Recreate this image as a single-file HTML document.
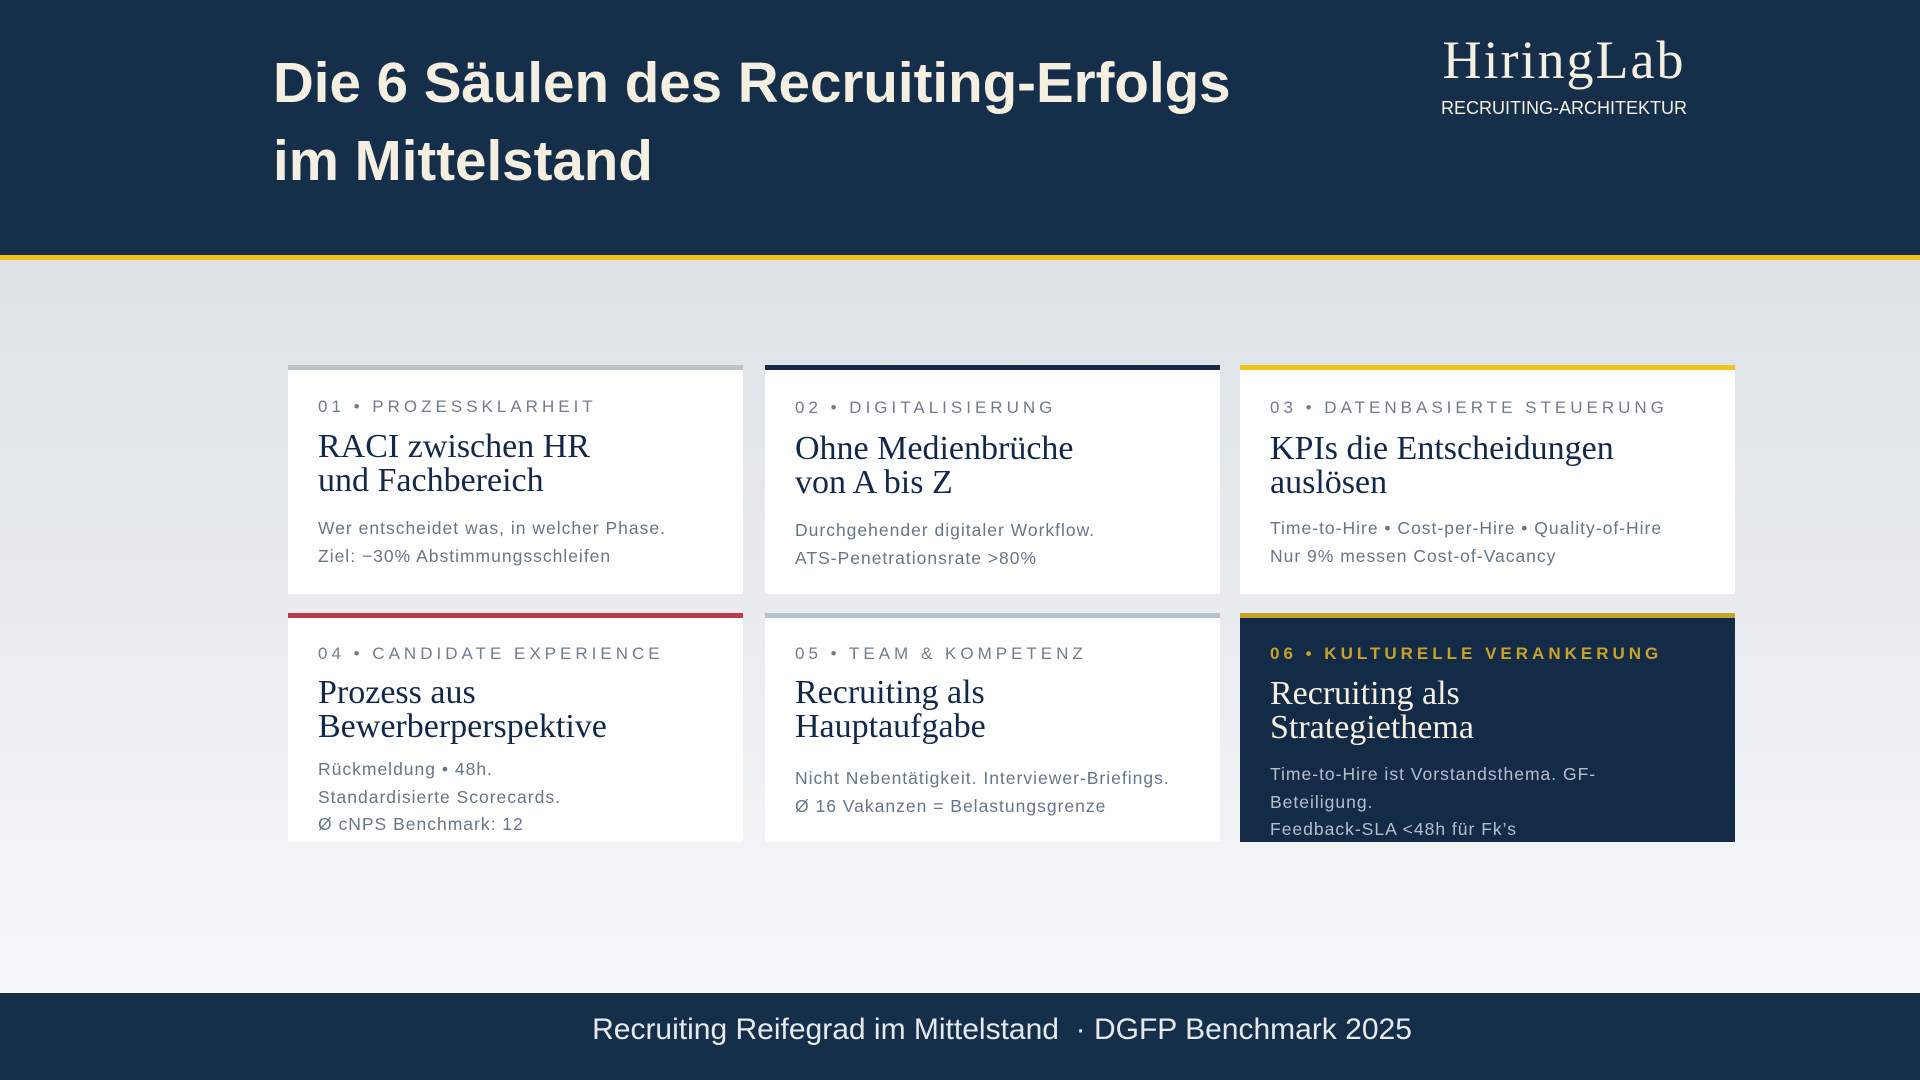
<!DOCTYPE html>
<html><head><meta charset="utf-8"><style>
*{margin:0;padding:0;box-sizing:border-box}
body{width:1920px;height:1080px;position:relative;overflow:hidden;font-family:"Liberation Sans",sans-serif;background:linear-gradient(#dce2e6 260px,#f6f7f8 990px)}
#header{position:absolute;left:0;top:0;width:1920px;height:255px;background:#152f4a}
#rule{position:absolute;left:0;top:255px;width:1920px;height:5px;background:#f0c419}
#title{position:absolute;left:273px;top:44px;color:#f5efe1;font-weight:bold;font-size:56.5px;line-height:78px}
#logo{position:absolute;left:1436px;top:28px;width:256px;text-align:center;color:#f5efe1}
#logo .n{font-family:"Liberation Serif",serif;font-size:54px;letter-spacing:2px;line-height:64px}
#logo .s{font-size:18px;line-height:20px;margin-top:6px}
#footer{position:absolute;left:0;top:993px;width:1920px;height:87px;background:#152f4a;color:#e6e9ee;font-size:30px;text-align:center;line-height:74px;padding-left:84px}
.card{position:absolute;background:#fff;padding-left:30px;border-top:5px solid #b9c2ca}
.lab{position:absolute;left:30px;font-size:17px;letter-spacing:4px;color:#6f7d8c}
.ttl{position:absolute;left:30px;font-family:"Liberation Serif",serif;font-size:34px;line-height:34px;color:#12284a}
.bd{position:absolute;left:30px;font-size:17.5px;line-height:27.5px;letter-spacing:1px;color:#66768a}
</style></head><body>
<div id="header"></div>
<div id="rule"></div>
<div id="title">Die 6 Säulen des Recruiting-Erfolgs<br>im Mittelstand</div>
<div id="logo"><div class="n">HiringLab</div><div class="s">RECRUITING-ARCHITEKTUR</div></div>

<div class="card" style="left:288px;top:365px;width:455px;height:229px">
<div class="lab" style="top:27px">01 • PROZESSKLARHEIT</div>
<div class="ttl" style="top:60px">RACI zwischen HR<br>und Fachbereich</div>
<div class="bd" style="top:145px">Wer entscheidet was, in welcher Phase.<br>Ziel: −30% Abstimmungsschleifen</div></div>

<div class="card" style="left:765px;top:365px;width:455px;height:229px;border-top-color:#142b47">
<div class="lab" style="top:28px">02 • DIGITALISIERUNG</div>
<div class="ttl" style="top:62px">Ohne Medienbrüche<br>von A bis Z</div>
<div class="bd" style="top:147px">Durchgehender digitaler Workflow.<br>ATS-Penetrationsrate &gt;80%</div></div>

<div class="card" style="left:1240px;top:365px;width:495px;height:229px;border-top-color:#f0c419">
<div class="lab" style="top:28px">03 • DATENBASIERTE STEUERUNG</div>
<div class="ttl" style="top:62px">KPIs die Entscheidungen<br>auslösen</div>
<div class="bd" style="top:145px">Time-to-Hire • Cost-per-Hire • Quality-of-Hire<br>Nur 9% messen Cost-of-Vacancy</div></div>

<div class="card" style="left:288px;top:613px;width:455px;height:229px;border-top-color:#c0394b">
<div class="lab" style="top:26px">04 • CANDIDATE EXPERIENCE</div>
<div class="ttl" style="top:58px">Prozess aus<br>Bewerberperspektive</div>
<div class="bd" style="top:138px">Rückmeldung • 48h.<br>Standardisierte Scorecards.<br>Ø cNPS Benchmark: 12</div></div>

<div class="card" style="left:765px;top:613px;width:455px;height:229px">
<div class="lab" style="top:26px">05 • TEAM &amp; KOMPETENZ</div>
<div class="ttl" style="top:58px">Recruiting als<br>Hauptaufgabe</div>
<div class="bd" style="top:147px">Nicht Nebentätigkeit. Interviewer-Briefings.<br>Ø 16 Vakanzen = Belastungsgrenze</div></div>

<div class="card" style="left:1240px;top:613px;width:495px;height:229px;background:#142b47;border-top-color:#c9a227">
<div class="lab" style="top:26px;color:#c9a227;font-weight:bold">06 • KULTURELLE VERANKERUNG</div>
<div class="ttl" style="top:59px;color:#f5efe1">Recruiting als<br>Strategiethema</div>
<div class="bd" style="top:143px;color:#b5bfcc;width:400px">Time-to-Hire ist Vorstandsthema. GF-<br>Beteiligung.<br>Feedback-SLA &lt;48h für Fk’s</div></div>

<div id="footer">Recruiting Reifegrad im Mittelstand &nbsp;· DGFP Benchmark 2025</div>
</body></html>
